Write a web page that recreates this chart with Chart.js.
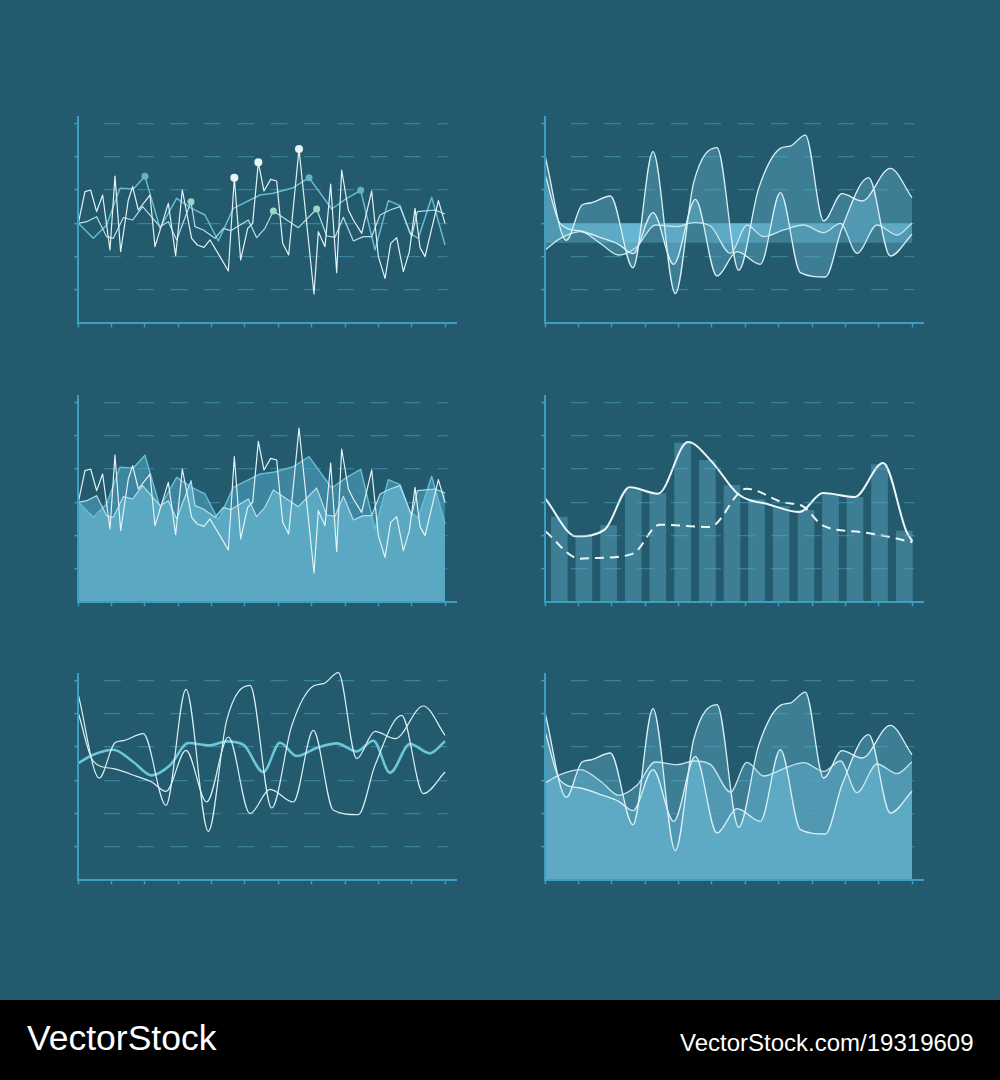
<!DOCTYPE html>
<html>
<head>
<meta charset="utf-8">
<script src="https://cdn.jsdelivr.net/npm/chart.js@4.4.0/dist/chart.umd.min.js"></script>
<style>
    html, body { margin: 0; padding: 0; background: #235a6e; }
    body { width: 1000px; height: 1080px; position: relative; overflow: hidden; font-family: "Liberation Sans", Arial, sans-serif; }
    canvas { position: absolute; }
    #footer { position: absolute; left: 0; top: 1000px; width: 1000px; height: 80px; background: #000; color: #fff; }
    #footer .brand { position: absolute; left: 27px; top: 21px; font-size: 35.5px; line-height: 35px; white-space: nowrap; }
    #footer .url { position: absolute; left: 680px; top: 31px; font-size: 24px; line-height: 24px; white-space: nowrap; }
</style>
</head>
<body>
<canvas id="panel1" width="410" height="240" style="left:60px;top:100px"></canvas>
<canvas id="panel2" width="410" height="240" style="left:527px;top:100px"></canvas>
<canvas id="panel3" width="410" height="240" style="left:60px;top:379px"></canvas>
<canvas id="panel4" width="410" height="240" style="left:527px;top:379px"></canvas>
<canvas id="panel5" width="410" height="240" style="left:60px;top:657px"></canvas>
<canvas id="panel6" width="410" height="240" style="left:527px;top:657px"></canvas>
<div id="footer">
    <span class="brand">VectorStock</span>
    <span class="url">VectorStock.com/19319609</span>
</div>
<script>
// axis ticks (same for every panel)
const xTicks = [0, 1, 2, 3, 4, 5, 6, 7, 8, 9, 10, 11];
const yTicks = [1, 2, 3, 4, 5, 6];
const X_MAX = 11.35;
const Y_MAX = 6.2;

// panels 1 and 3: jagged lines
const jagX = [0, 0.2, 0.37, 0.55, 0.73, 0.95, 1.1, 1.27, 1.5, 1.63, 1.8, 2.15, 2.3, 2.7, 2.92, 3.12, 3.4, 3.57, 3.77, 3.95, 4.25, 4.5, 4.68, 4.87, 5.08, 5.23, 5.4, 5.57, 5.77, 5.95, 6.13, 6.31, 6.62, 7.07, 7.2, 7.4, 7.57, 7.75, 7.9, 8.1, 8.25, 8.5, 8.8, 9.0, 9.2, 9.37, 9.55, 9.75, 9.93, 10.1, 10.25, 10.4, 10.8, 11.0];
const jagY = [3.0, 3.95, 4.0, 3.35, 3.85, 2.2, 4.42, 2.15, 3.7, 4.1, 3.4, 3.85, 2.3, 3.6, 2.03, 4.0, 2.55, 2.35, 2.28, 2.5, 2.0, 1.57, 4.37, 1.9, 2.85, 3.0, 4.83, 3.97, 4.32, 4.27, 2.4, 2.05, 5.23, 0.88, 2.75, 2.3, 4.18, 1.52, 4.6, 3.4, 3.1, 2.7, 3.97, 2.0, 1.35, 2.4, 2.57, 1.55, 2.15, 3.45, 2.27, 2.0, 3.68, 3.0];
const jagMarks = [22, 26, 32];

const paleX = [0, 0.25, 0.55, 0.85, 1.05, 1.35, 1.63, 1.93, 2.45, 2.7, 2.95, 3.38, 3.5, 3.75, 4.1, 4.35, 4.57, 5.1, 5.35, 5.6, 5.85, 6.6, 7.15, 7.45, 7.7, 7.95, 8.25, 8.55, 8.8, 9.05, 9.35, 9.65, 10.0, 10.17, 10.7, 11.0];
const paleY = [3.0, 3.05, 3.2, 2.6, 2.55, 3.17, 3.1, 3.5, 2.9, 3.05, 2.5, 3.65, 2.9, 2.8, 2.55, 2.85, 2.78, 3.1, 2.57, 2.85, 3.37, 2.87, 3.43, 2.62, 2.58, 3.18, 2.47, 2.6, 2.6, 3.25, 3.4, 3.5, 2.6, 3.35, 3.4, 3.28];
const paleMarks = [11, 20, 22];

const cyanX = [0, 0.45, 0.85, 1.25, 1.65, 2.0, 2.45, 2.95, 3.4, 3.8, 4.2, 4.65, 5.45, 5.85, 6.45, 6.92, 7.6, 8.05, 8.47, 8.9, 9.3, 9.65, 9.95, 10.2, 10.6, 11.0];
const cyanY = [3.0, 2.55, 2.95, 4.05, 4.03, 4.41, 2.85, 3.75, 3.45, 3.25, 2.47, 3.45, 3.85, 3.9, 4.07, 4.37, 3.43, 3.75, 3.99, 2.2, 3.68, 3.53, 2.7, 2.55, 3.78, 2.35];
const cyanMarks = [5, 15, 18];

// panels 2, 5 and 6: smooth waves
const waveAX = [0, 0.63, 1.1, 1.35, 1.95, 2.63, 3.23, 3.9, 4.45, 5.15, 5.8, 6.4, 7.05, 7.35, 7.8, 8.35, 8.9, 9.5, 10.35, 11.0];
const waveBX = [0, 0.45, 1.05, 1.75, 2.2, 2.63, 3.23, 3.85, 4.5, 5.15, 5.75, 6.45, 7.05, 7.65, 8.4, 8.9, 9.7, 10.35, 11.0];
const waveCX = [0, 0.45, 1.05, 1.65, 2.2, 2.75, 3.3, 3.95, 4.45, 4.95, 5.55, 6.05, 6.55, 7.15, 7.75, 8.35, 8.85, 9.35, 9.95, 10.55, 11.0];

const wave5A = [5.57, 3.07, 4.13, 4.19, 4.40, 2.25, 5.73, 1.47, 4.8, 5.85, 2.17, 4.63, 5.83, 5.9, 6.23, 3.65, 4.47, 4.25, 5.23, 4.35];
const wave5B = [5.02, 3.57, 3.35, 3.12, 2.95, 2.67, 3.9, 2.35, 4.3, 2.0, 2.73, 2.35, 4.5, 2.1, 1.97, 3.45, 4.95, 2.6, 3.25];
const wave5C = [3.52, 3.77, 3.92, 3.55, 3.15, 3.45, 4.12, 4.05, 4.17, 4.07, 3.25, 4.13, 3.73, 3.97, 4.11, 3.87, 4.19, 3.23, 4.09, 3.81, 4.17];

const waveA = [4.99, 2.49, 3.55, 3.61, 3.82, 1.67, 5.15, 0.89, 4.22, 5.27, 1.59, 4.05, 5.25, 5.32, 5.65, 3.07, 3.89, 3.67, 4.65, 3.77];
const waveB = [4.44, 2.99, 2.77, 2.54, 2.37, 2.09, 3.32, 1.77, 3.72, 1.42, 2.15, 1.77, 3.92, 1.52, 1.39, 2.87, 4.37, 2.02, 2.67];
const wave2C = [2.2, 2.55, 2.75, 2.4, 2.05, 2.3, 2.95, 2.9, 3.02, 2.92, 2.1, 2.95, 2.6, 2.8, 2.95, 2.72, 3.0, 2.1, 2.95, 2.65, 3.0];
const wave6C = [2.93, 3.17, 3.32, 2.98, 2.55, 2.85, 3.55, 3.47, 3.58, 3.48, 2.65, 3.54, 3.13, 3.35, 3.53, 3.27, 3.58, 2.63, 3.49, 3.2, 3.55];

// panel 2 band
const bandX = [0, 11];
const bandTop = [3.0, 3.0];
const bandBottom = 2.42;
const waveBase = 3.0;

// panel 4: bars with two lines
const barX = [0.42, 1.155, 1.9, 2.64, 3.375, 4.12, 4.86, 5.6, 6.335, 7.075, 7.82, 8.555, 9.29, 10.025, 10.77];
const barY = [2.56, 1.98, 2.30, 3.38, 3.26, 4.78, 4.26, 3.51, 3.08, 2.88, 2.76, 3.23, 3.15, 4.13, 2.14];
const solidX = [0, 0.93, 1.78, 2.53, 3.38, 4.28, 5.01, 5.78, 6.73, 7.63, 8.33, 9.28, 10.13, 10.83, 11.01];
const solidY = [3.11, 1.98, 2.18, 3.45, 3.26, 4.81, 4.2, 3.25, 2.93, 2.71, 3.28, 3.16, 4.18, 2.13, 1.83];
const dashX = [0, 1.03, 1.53, 2.63, 3.43, 4.93, 6.03, 7.13, 7.73, 8.33, 9.53, 10.23, 11.01];
const dashY = [2.13, 1.31, 1.33, 1.46, 2.33, 2.26, 3.41, 3.0, 2.88, 2.30, 2.10, 1.98, 1.80];

const AXIS = '#3e9dc2';
const GRID = 'rgba(80, 165, 200, 0.5)';
const FILL = 'rgba(125, 213, 241, 0.3)';
const LINE = '#d9f0f5';

// dashes centred on the x ticks, none next to the y axis
const gridDash = [0, 25].concat(Array(20).fill(16.67), [10, 60]);

function pts(xs, ys) {
    return xs.map((x, i) => ({x: x, y: ys[i]}));
}

function marks(list, r) {
    return ctx => list.includes(ctx.dataIndex) ? r : 0;
}

function makeOptions(gridOnTop) {
    return {
        responsive: false,
        animation: false,
        events: [],
        layout: {padding: {left: 8.3, right: 13.3, top: 16.7, bottom: 6.7}},
        elements: {point: {radius: 0}, line: {borderJoinStyle: 'round'}},
        plugins: {
            legend: {display: false},
            tooltip: {enabled: false},
            filler: {drawTime: 'beforeDraw'}
        },
        scales: {
            x: {
                type: 'linear', min: 0, max: X_MAX, offset: false,
                afterBuildTicks: s => { s.ticks = xTicks.map(v => ({value: v})); },
                afterFit: s => { s.height = 10; },
                ticks: {display: false},
                grid: {offset: false, drawOnChartArea: false, drawTicks: true, tickLength: 4, tickWidth: 1.5, tickColor: AXIS},
                border: {color: AXIS, width: 2, z: 3}
            },
            y: {
                type: 'linear', min: 0, max: Y_MAX,
                afterBuildTicks: s => { s.ticks = yTicks.map(v => ({value: v})); },
                afterFit: s => { s.width = 10; },
                ticks: {display: false},
                grid: {color: GRID, lineWidth: 1.2, drawTicks: true, tickLength: 4, tickWidth: 1.5, tickColor: AXIS, z: gridOnTop ? 1 : -1},
                border: {color: AXIS, width: 2, dash: gridDash, z: 3}
            }
        }
    };
}

function jaggedSets(filled) {
    return [
        {
            data: pts(jagX, jagY), borderColor: '#e2f2f6', borderWidth: 1.2, tension: 0, clip: false,
            pointRadius: filled ? 0 : marks(jagMarks, 4), pointBackgroundColor: '#e8f5f8', pointBorderWidth: 0
        },
        {
            data: pts(paleX, paleY), borderColor: '#b4e0ea', borderWidth: 1.2, tension: 0, clip: false,
            fill: filled ? 2 : false, backgroundColor: '#3e85a0',
            pointRadius: filled ? 0 : marks(paleMarks, 3.5), pointBackgroundColor: '#9fd5c2', pointBorderWidth: 0
        },
        {
            data: pts(cyanX, cyanY), borderColor: '#66bdd2', borderWidth: 1.5, tension: 0, clip: false,
            fill: filled ? 'origin' : false, backgroundColor: '#5aa8c1',
            pointRadius: filled ? 0 : marks(cyanMarks, 3.5), pointBackgroundColor: '#5fb4c6', pointBorderWidth: 0
        }
    ];
}

function waveSet(xs, ys, color, width, fill) {
    return {
        data: pts(xs, ys), borderColor: color, borderWidth: width, clip: false,
        cubicInterpolationMode: 'monotone', fill: fill, backgroundColor: FILL
    };
}

// panel 1
new Chart(document.getElementById('panel1'), {
    type: 'line',
    data: {datasets: jaggedSets(false)},
    options: makeOptions(false)
});

// panel 2
new Chart(document.getElementById('panel2'), {
    type: 'line',
    data: {
        datasets: [
            waveSet(waveAX, waveA, LINE, 1.3, {value: waveBase}),
            waveSet(waveBX, waveB, LINE, 1.3, {value: waveBase}),
            waveSet(waveCX, wave2C, '#c4e7ef', 1.3, {value: waveBase}),
            {data: pts(bandX, bandTop), borderWidth: 0, fill: {value: bandBottom}, backgroundColor: FILL}
        ]
    },
    options: makeOptions(false)
});

// panel 3
new Chart(document.getElementById('panel3'), {
    type: 'line',
    data: {datasets: jaggedSets(true)},
    options: makeOptions(false)
});

// panel 4
new Chart(document.getElementById('panel4'), {
    type: 'line',
    data: {
        datasets: [
            {
                data: pts(solidX, solidY), borderColor: '#eaf6f9', borderWidth: 2, clip: false,
                cubicInterpolationMode: 'monotone', order: 1
            },
            {
                data: pts(dashX, dashY), borderColor: '#eaf6f9', borderWidth: 2, borderDash: [9, 6], clip: false,
                cubicInterpolationMode: 'monotone', order: 1
            },
            {
                type: 'bar', data: pts(barX, barY), backgroundColor: FILL, borderWidth: 0,
                barThickness: 16, grouped: false, order: 2
            }
        ]
    },
    options: makeOptions(true)
});

// panel 5
new Chart(document.getElementById('panel5'), {
    type: 'line',
    data: {
        datasets: [
            waveSet(waveAX, wave5A, LINE, 1.2, false),
            waveSet(waveBX, wave5B, LINE, 1.2, false),
            waveSet(waveCX, wave5C, '#6cc6d8', 2.6, false)
        ]
    },
    options: makeOptions(false)
});

// panel 6
new Chart(document.getElementById('panel6'), {
    type: 'line',
    data: {
        datasets: [
            waveSet(waveAX, waveA, LINE, 1.3, 'origin'),
            waveSet(waveBX, waveB, LINE, 1.3, 'origin'),
            waveSet(waveCX, wave6C, '#c4e7ef', 1.3, 'origin')
        ]
    },
    options: makeOptions(false)
});
</script>
</body>
</html>
